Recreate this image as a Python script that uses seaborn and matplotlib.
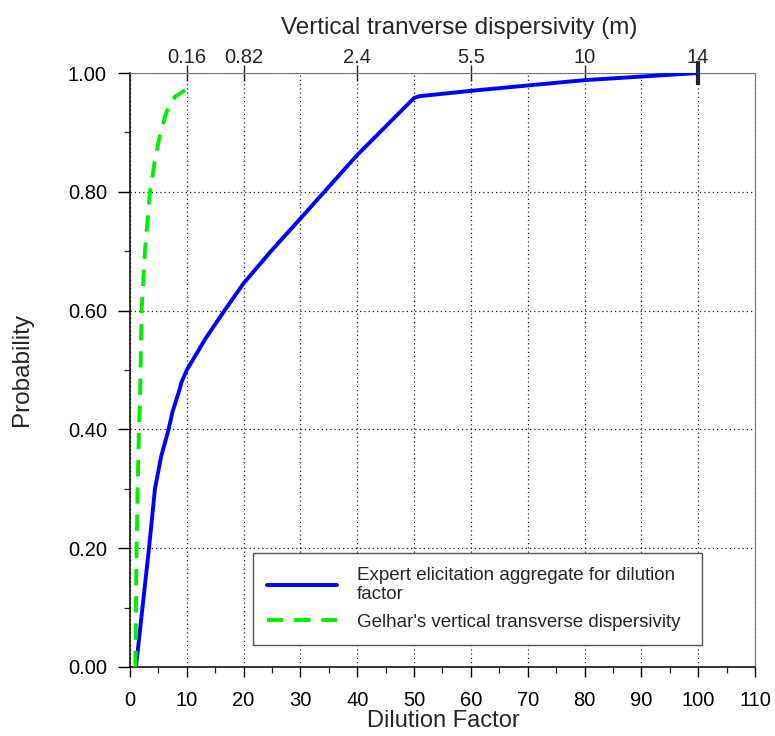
import numpy as np
import pandas as pd
import matplotlib
matplotlib.use("Agg")
import matplotlib.pyplot as plt
from matplotlib.ticker import MultipleLocator, FormatStrFormatter
import seaborn as sns

# Expert elicitation aggregate CDF for the dilution factor
expert_df = [1.06, 2.2, 3.35, 4.4, 5.5, 6.8, 7.5, 8.5, 9.1, 10.0, 12.0, 13.3,
             16.7, 20.0, 25.0, 30.0, 40.0, 50.0, 51.0, 60.0, 80.0, 100.0]
expert_p = [0.00, 0.10, 0.20, 0.30, 0.355, 0.40, 0.43, 0.46, 0.48, 0.50, 0.532, 0.553,
            0.601, 0.646, 0.702, 0.755, 0.862, 0.958, 0.961, 0.970, 0.988, 1.00]

# Gelhar's vertical transverse dispersivity CDF
gelhar_df = [0.95, 1.05, 1.17, 1.35, 1.58, 1.76, 2.05, 2.64, 3.52, 4.4, 5.28, 6.45, 7.92, 9.7]
gelhar_p = [0.00, 0.10, 0.20, 0.30, 0.40, 0.445, 0.60, 0.70, 0.80, 0.853, 0.896, 0.935, 0.960, 0.971]

# Top axis: dispersivity (m) at given dilution factors
top_positions = [10, 20, 40, 60, 80, 100]
top_labels = ["0.16", "0.82", "2.4", "5.5", "10", "14"]

expert_label = "Expert elicitation aggregate for dilution\nfactor"
gelhar_label = "Gelhar's vertical transverse dispersivity"

sns.set_style("ticks")
plt.rcParams["font.family"] = ["Liberation Sans", "DejaVu Sans"]

fig = plt.figure(figsize=(7.75, 7.36), dpi=100)
ax = fig.add_axes([0.1677, 0.0938, 0.8065, 0.807])

expert = pd.DataFrame({"x": expert_df, "p": expert_p})
gelhar = pd.DataFrame({"x": gelhar_df, "p": gelhar_p})

sns.lineplot(data=expert, x="x", y="p", ax=ax, color="#0000ff", lw=2.8,
             sort=False, estimator=None, label=expert_label, zorder=3)
sns.lineplot(data=gelhar, x="x", y="p", ax=ax, color="#00ee00", lw=2.8,
             sort=False, estimator=None, label=gelhar_label, zorder=3,
             linestyle=(0, (4.2, 2.8)))

ax.set_xlim(0, 110)
ax.set_ylim(0, 1.0)
ax.xaxis.set_major_locator(MultipleLocator(10))
ax.xaxis.set_minor_locator(MultipleLocator(5))
ax.yaxis.set_major_locator(MultipleLocator(0.2))
ax.yaxis.set_minor_locator(MultipleLocator(0.1))
ax.yaxis.set_major_formatter(FormatStrFormatter("%.2f"))

ax.grid(True, which="major", linestyle=(0, (1, 2.4)), color="#222222", lw=0.9)
ax.tick_params(which="major", direction="out", width=1.0,
               labelsize=14.5, colors="black")
ax.tick_params(axis="x", which="major", length=7.5, pad=10)
ax.tick_params(axis="y", which="major", length=8.6, pad=8)
ax.tick_params(which="minor", direction="out", length=4.5, width=0.9)

ax.set_xlabel("Dilution Factor", fontsize=17)
ax.xaxis.set_label_coords(0.502, -0.073)
ax.set_ylabel("Probability", fontsize=17.5)
ax.yaxis.set_label_coords(-0.155, 0.5)

for side in ["left", "bottom"]:
    ax.spines[side].set_color("black")
    ax.spines[side].set_linewidth(1.1)
for side in ["top", "right"]:
    ax.spines[side].set_color("#777777")
    ax.spines[side].set_linewidth(0.8)

# Secondary top axis labelled with dispersivity values
top = ax.secondary_xaxis("top")
top.set_xticks(top_positions)
top.set_xticklabels(top_labels)
top.tick_params(direction="inout", length=12, width=1.0, labelsize=14.5, pad=-2)
top.set_xlabel("Vertical tranverse dispersivity (m)", fontsize=17.5)
top.xaxis.set_label_coords(0.526, 1.066, transform=ax.transAxes)
top.spines["top"].set_visible(False)
end_tick = top.xaxis.get_major_ticks()[-1]
for tl in (end_tick.tick1line, end_tick.tick2line):
    tl.set_markeredgewidth(3)
    tl.set_markersize(17)

leg = ax.legend(loc="lower left", bbox_to_anchor=(0.197, 0.037, 0.718, 0.165),
                mode="expand", fontsize=13.5, frameon=True, fancybox=False,
                edgecolor="#555555", framealpha=1, handlelength=3.7,
                handletextpad=1.1, borderpad=0.75, labelspacing=0.55,
                borderaxespad=0)
leg.get_frame().set_linewidth(1.0)

fig.savefig("out.png", dpi=100)
